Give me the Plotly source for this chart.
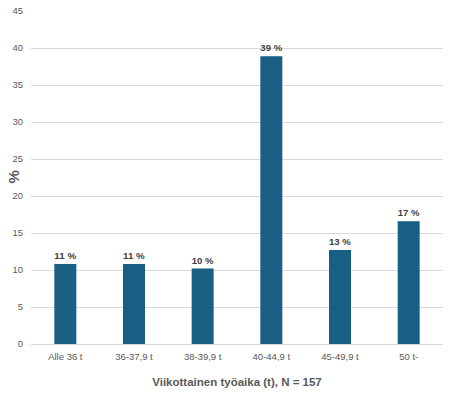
import plotly.graph_objects as go

categories = ["Alle 36 t", "36-37,9 t", "38-39,9 t", "40-44,9 t", "45-49,9 t", "50 t-"]
values = [10.8, 10.8, 10.2, 38.9, 12.7, 16.6]
labels = ["11 %", "11 %", "10 %", "39 %", "13 %", "17 %"]
y_ticks = [0, 5, 10, 15, 20, 25, 30, 35, 40, 45]

fig = go.Figure(go.Bar(
    x=categories, y=values,
    marker=dict(color="#185f83", line=dict(width=0)),
    text=labels, textposition="outside", cliponaxis=False,
    textfont=dict(family="Liberation Sans, Arial, sans-serif", size=11, color="#404040"),
    texttemplate="<b>%{text}</b>",
))

fig.update_layout(
    width=449, height=398,
    margin=dict(l=31, r=6, t=11, b=54),
    paper_bgcolor="white", plot_bgcolor="white",
    bargap=0.68,
    showlegend=False,
    font=dict(family="Liberation Sans, Arial, sans-serif", color="#595959"),
    xaxis=dict(
        automargin=False,
        showgrid=False, ticks="", showline=True, linecolor="#d9d9d9", linewidth=1,
        tickfont=dict(size=9.5, color="#595959"), ticklabelstandoff=4,
        title=dict(text="<b>Viikottainen työaika (t), N = 157</b>",
                   font=dict(size=11.5, color="#595959"), standoff=16),
    ),
    yaxis=dict(
        automargin=False,
        range=[0, 45], tickvals=y_ticks, showgrid=True, gridcolor="#d9d9d9", gridwidth=1,
        zeroline=False, ticks="", tickfont=dict(size=9.5, color="#595959"),
        ticklabelstandoff=7,
    ),
    annotations=[dict(
        text="<b>%</b>", xref="paper", yref="paper", x=0, y=0.5,
        xanchor="center", yanchor="middle", xshift=-18, textangle=-90,
        showarrow=False, font=dict(size=15, color="#595959"),
    )],
)

fig.write_html("out.html", config={"displayModeBar": False},
               post_script="document.body.style.margin='0';")
